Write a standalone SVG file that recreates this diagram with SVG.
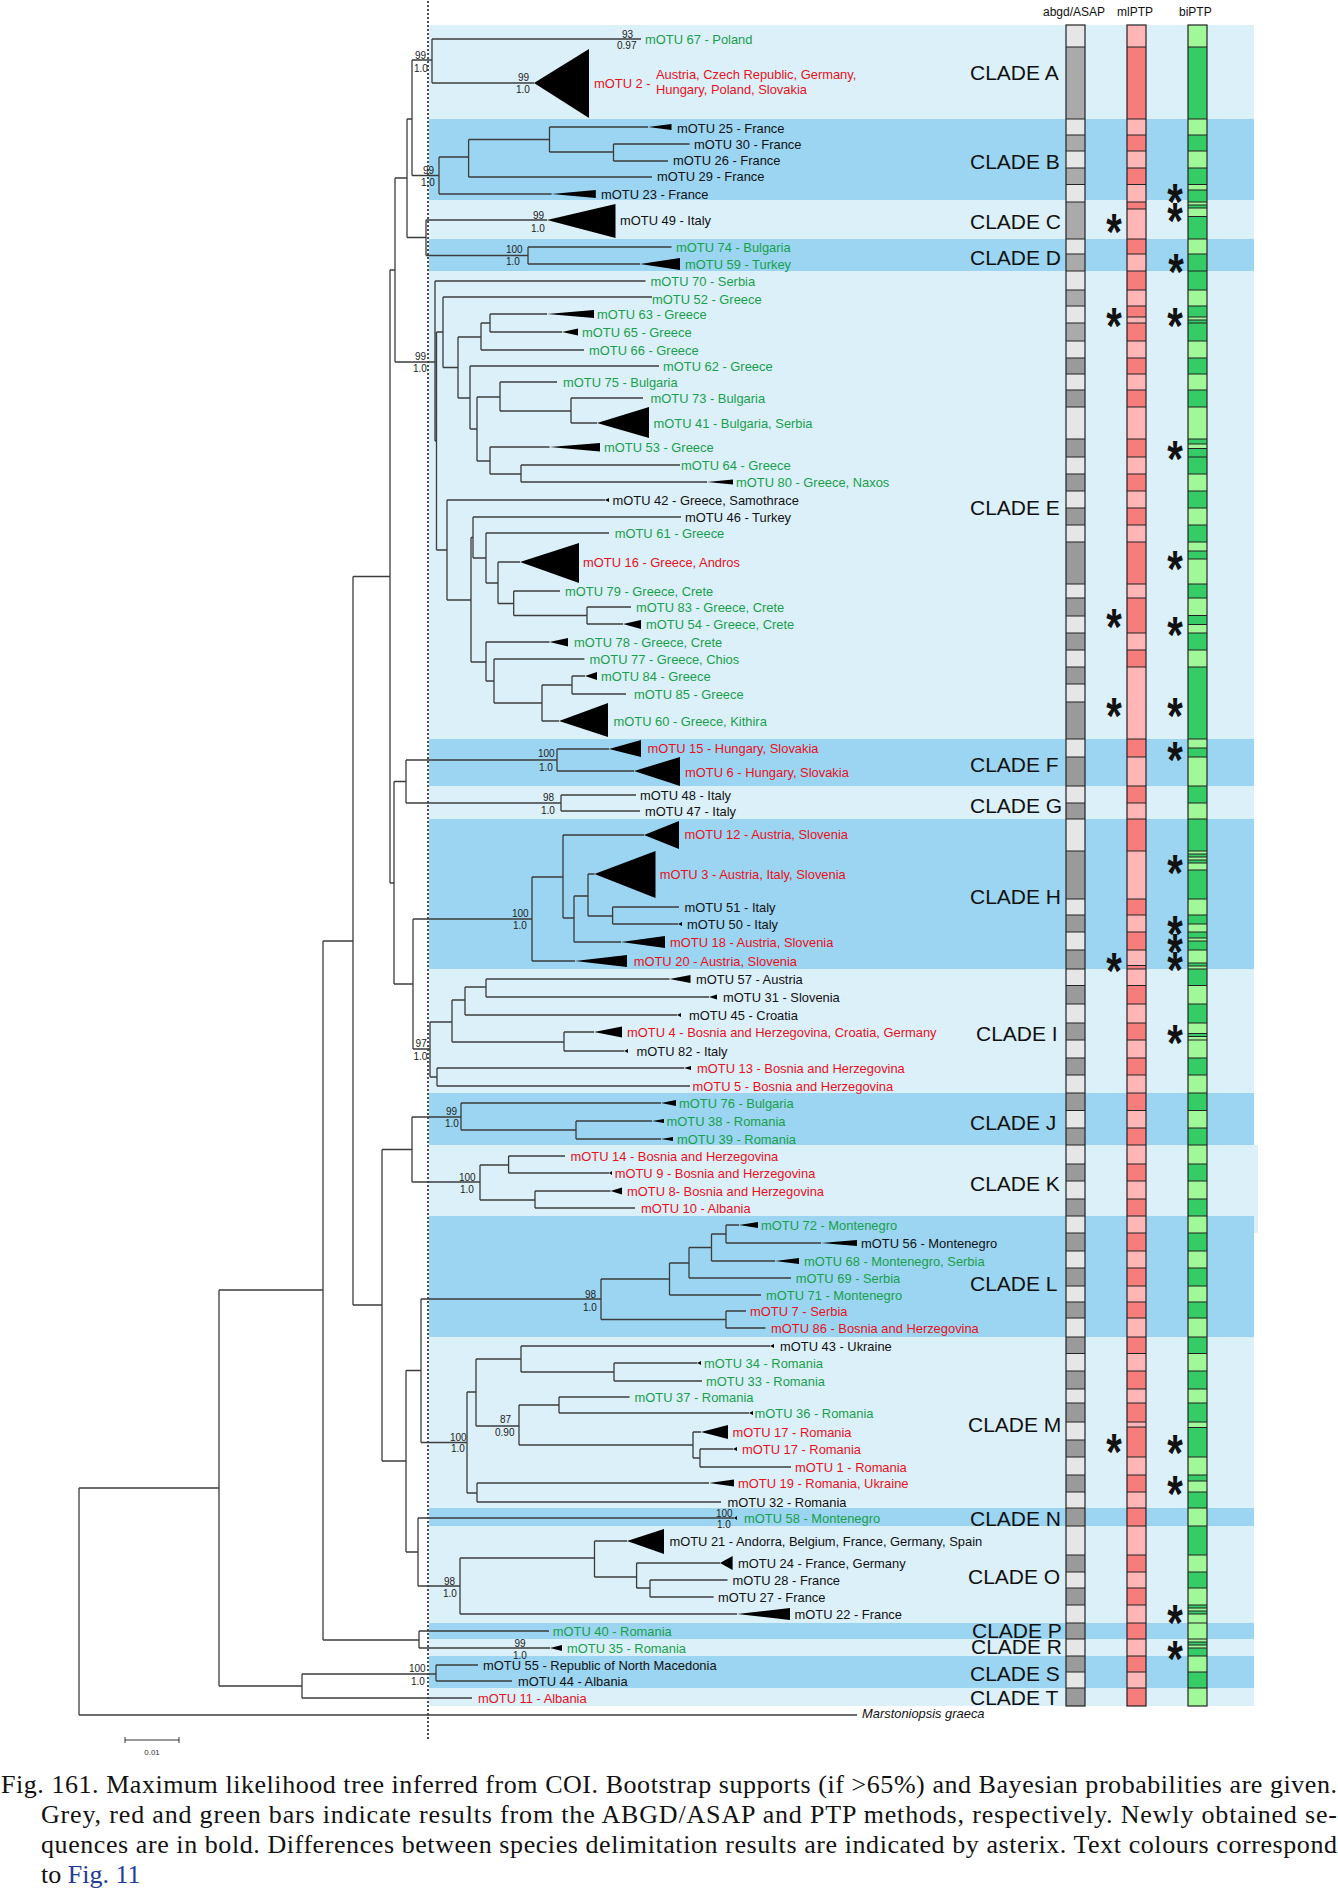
<svg xmlns="http://www.w3.org/2000/svg" width="1338" height="1894" viewBox="0 0 1338 1894">
<style>
.lt{fill:#dcf0f9}.dk{fill:#9bd5f1}
.br{fill:none;stroke:#3c3c3c;stroke-width:1.3}
.tri{fill:#000}
.t{font-family:"Liberation Sans",Arial,sans-serif;font-size:12.9px}
.g{fill:#17a04a}.r{fill:#e8101c}.k{fill:#111}
.sup{font-family:"Liberation Sans",Arial,sans-serif;font-size:10px;fill:#222}
.cl{font-family:"Liberation Sans",Arial,sans-serif;font-size:21px;fill:#111}
.hd{font-family:"Liberation Sans",Arial,sans-serif;font-size:12px;fill:#111}
.ast{font-family:"Liberation Sans",Arial,sans-serif;font-size:40px;font-weight:bold;fill:#111;text-anchor:middle}
.cap{font-family:"Liberation Serif","Times New Roman",serif;font-size:26px;fill:#111}
.bl{fill:none;stroke:#222;stroke-width:1.2}
.ga{fill:#aaaaaa}.gb{fill:#9a9a9a}
.pl{fill:#ffb6b6}.ps{fill:#f77c7c}
.vl{fill:#a0f898}.vd{fill:#35cc66}
</style>
<rect x="0" y="0" width="1338" height="1894" fill="#fff"/>
<g id="bands">
<rect class="lt" x="429" y="1145" width="829" height="88"/>
<rect class="lt" x="429" y="25" width="825" height="94"/>
<rect class="dk" x="429" y="119" width="825" height="81"/>
<rect class="lt" x="429" y="200" width="825" height="39"/>
<rect class="dk" x="429" y="239" width="825" height="32"/>
<rect class="lt" x="429" y="271" width="825" height="468"/>
<rect class="dk" x="429" y="739" width="825" height="47"/>
<rect class="lt" x="429" y="786" width="825" height="33"/>
<rect class="dk" x="429" y="819" width="825" height="150"/>
<rect class="lt" x="429" y="969" width="825" height="124"/>
<rect class="dk" x="429" y="1093" width="825" height="52"/>
<rect class="dk" x="429" y="1216" width="825" height="121"/>
<rect class="lt" x="429" y="1337" width="825" height="171"/>
<rect class="dk" x="429" y="1508" width="825" height="18"/>
<rect class="lt" x="429" y="1526" width="825" height="97"/>
<rect class="dk" x="429" y="1623" width="825" height="16"/>
<rect class="lt" x="429" y="1639" width="825" height="17"/>
<rect class="dk" x="429" y="1656" width="825" height="32"/>
<rect class="lt" x="429" y="1688" width="825" height="18"/>
</g>
<line x1="428" y1="1" x2="428" y2="1740" stroke="#222" stroke-width="1.6" stroke-dasharray="2 2"/>
<g id="clade-labels">
<text class="cl" x="970" y="80">CLADE A</text>
<text class="cl" x="970" y="169">CLADE B</text>
<text class="cl" x="970" y="229">CLADE C</text>
<text class="cl" x="970" y="265">CLADE D</text>
<text class="cl" x="970" y="515">CLADE E</text>
<text class="cl" x="970" y="772">CLADE F</text>
<text class="cl" x="970" y="813">CLADE G</text>
<text class="cl" x="970" y="904">CLADE H</text>
<text class="cl" x="976" y="1041">CLADE I</text>
<text class="cl" x="970" y="1130">CLADE J</text>
<text class="cl" x="970" y="1191">CLADE K</text>
<text class="cl" x="970" y="1291">CLADE L</text>
<text class="cl" x="968" y="1432">CLADE M</text>
<text class="cl" x="970" y="1526">CLADE N</text>
<text class="cl" x="968" y="1584">CLADE O</text>
<text class="cl" x="972" y="1638">CLADE P</text>
<text class="cl" x="971" y="1654">CLADE R</text>
<text class="cl" x="970" y="1681">CLADE S</text>
<text class="cl" x="970" y="1705">CLADE T</text>
</g>
<g id="headers">
<text class="hd" x="1043" y="15.5">abgd/ASAP</text>
<text class="hd" x="1117" y="15.5">mlPTP</text>
<text class="hd" x="1179" y="15.5">biPTP</text>
</g>
<g id="bar-abgd">
<rect x="1066" y="25" width="19" height="1681" fill="#e6e6e6"/>
<g class="ga"><rect x="1066" y="47" width="19" height="72"/><rect x="1066" y="135" width="19" height="16"/><rect x="1066" y="168" width="19" height="16.5"/><rect x="1066" y="202" width="19" height="37"/><rect x="1066" y="254" width="19" height="17"/><rect x="1066" y="290" width="19" height="16"/><rect x="1066" y="323" width="19" height="18"/></g>
<g class="gb"><rect x="1066" y="358" width="19" height="16"/><rect x="1066" y="390" width="19" height="17"/><rect x="1066" y="439" width="19" height="18"/><rect x="1066" y="474" width="19" height="17"/><rect x="1066" y="508" width="19" height="17"/><rect x="1066" y="542" width="19" height="42"/><rect x="1066" y="598" width="19" height="18"/><rect x="1066" y="633" width="19" height="17"/><rect x="1066" y="667" width="19" height="17"/><rect x="1066" y="702" width="19" height="37"/><rect x="1066" y="757" width="19" height="29"/><rect x="1066" y="803" width="19" height="16"/><rect x="1066" y="851" width="19" height="48"/><rect x="1066" y="915" width="19" height="17"/><rect x="1066" y="950" width="19" height="19"/><rect x="1066" y="985.5" width="19" height="18.5"/><rect x="1066" y="1023" width="19" height="17"/><rect x="1066" y="1058" width="19" height="17"/><rect x="1066" y="1093" width="19" height="17.5"/><rect x="1066" y="1128" width="19" height="17"/><rect x="1066" y="1164" width="19" height="17"/><rect x="1066" y="1199" width="19" height="17"/><rect x="1066" y="1233" width="19" height="18"/><rect x="1066" y="1268" width="19" height="18"/><rect x="1066" y="1302" width="19" height="16"/><rect x="1066" y="1337" width="19" height="16.5"/><rect x="1066" y="1371" width="19" height="18"/><rect x="1066" y="1403" width="19" height="19"/><rect x="1066" y="1440" width="19" height="17"/><rect x="1066" y="1475" width="19" height="17"/><rect x="1066" y="1508" width="19" height="18"/><rect x="1066" y="1555" width="19" height="17"/><rect x="1066" y="1588" width="19" height="17"/><rect x="1066" y="1623" width="19" height="16"/><rect x="1066" y="1656" width="19" height="16"/><rect x="1066" y="1688" width="19" height="18"/></g>
<path class="bl" d="M1066,47H1085M1066,119H1085M1066,135H1085M1066,151H1085M1066,168H1085M1066,184.5H1085M1066,202H1085M1066,239H1085M1066,254H1085M1066,271H1085M1066,290H1085M1066,306H1085M1066,323H1085M1066,341H1085M1066,358H1085M1066,374H1085M1066,390H1085M1066,407H1085M1066,439H1085M1066,457H1085M1066,474H1085M1066,491H1085M1066,508H1085M1066,525H1085M1066,542H1085M1066,584H1085M1066,598H1085M1066,616H1085M1066,633H1085M1066,650H1085M1066,667H1085M1066,684H1085M1066,702H1085M1066,739H1085M1066,757H1085M1066,786H1085M1066,803H1085M1066,819H1085M1066,851H1085M1066,899H1085M1066,915H1085M1066,932H1085M1066,950H1085M1066,969H1085M1066,985.5H1085M1066,1004H1085M1066,1023H1085M1066,1040H1085M1066,1058H1085M1066,1075H1085M1066,1093H1085M1066,1110.5H1085M1066,1128H1085M1066,1145H1085M1066,1164H1085M1066,1181H1085M1066,1199H1085M1066,1216H1085M1066,1233H1085M1066,1251H1085M1066,1268H1085M1066,1286H1085M1066,1302H1085M1066,1318H1085M1066,1337H1085M1066,1353.5H1085M1066,1371H1085M1066,1389H1085M1066,1403H1085M1066,1422H1085M1066,1440H1085M1066,1457H1085M1066,1475H1085M1066,1492H1085M1066,1508H1085M1066,1526H1085M1066,1555H1085M1066,1572H1085M1066,1588H1085M1066,1605H1085M1066,1623H1085M1066,1639H1085M1066,1656H1085M1066,1672H1085M1066,1688H1085"/>
<rect class="bl" x="1066" y="25" width="19" height="1681"/>
</g>
<g id="bar-mlPTP">
<rect class="pl" x="1127" y="25" width="19" height="1681"/>
<g class="ps"><rect x="1127" y="47" width="19" height="72"/><rect x="1127" y="135" width="19" height="16"/><rect x="1127" y="168" width="19" height="16.5"/><rect x="1127" y="202" width="19" height="7"/><rect x="1127" y="239" width="19" height="15"/><rect x="1127" y="271" width="19" height="19"/><rect x="1127" y="306" width="19" height="11"/><rect x="1127" y="323" width="19" height="18"/><rect x="1127" y="358" width="19" height="16"/><rect x="1127" y="390" width="19" height="17"/><rect x="1127" y="439" width="19" height="18"/><rect x="1127" y="474" width="19" height="17"/><rect x="1127" y="508" width="19" height="17"/><rect x="1127" y="542" width="19" height="42"/><rect x="1127" y="598" width="19" height="35"/><rect x="1127" y="650" width="19" height="17"/><rect x="1127" y="739" width="19" height="18"/><rect x="1127" y="786" width="19" height="17"/><rect x="1127" y="819" width="19" height="32"/><rect x="1127" y="899" width="19" height="16"/><rect x="1127" y="932" width="19" height="18"/><rect x="1127" y="965.5" width="19" height="3.5"/><rect x="1127" y="985.5" width="19" height="18.5"/><rect x="1127" y="1023" width="19" height="17"/><rect x="1127" y="1058" width="19" height="17"/><rect x="1127" y="1093" width="19" height="17.5"/><rect x="1127" y="1128" width="19" height="17"/><rect x="1127" y="1164" width="19" height="17"/><rect x="1127" y="1199" width="19" height="17"/><rect x="1127" y="1233" width="19" height="18"/><rect x="1127" y="1268" width="19" height="18"/><rect x="1127" y="1302" width="19" height="16"/><rect x="1127" y="1337" width="19" height="16.5"/><rect x="1127" y="1371" width="19" height="18"/><rect x="1127" y="1403" width="19" height="19"/><rect x="1127" y="1427" width="19" height="30"/><rect x="1127" y="1475" width="19" height="17"/><rect x="1127" y="1508" width="19" height="18"/><rect x="1127" y="1555" width="19" height="17"/><rect x="1127" y="1588" width="19" height="17"/><rect x="1127" y="1623" width="19" height="16"/><rect x="1127" y="1656" width="19" height="16"/><rect x="1127" y="1688" width="19" height="18"/></g>
<path class="bl" d="M1127,47H1146M1127,119H1146M1127,135H1146M1127,151H1146M1127,168H1146M1127,184.5H1146M1127,202H1146M1127,209H1146M1127,239H1146M1127,254H1146M1127,271H1146M1127,290H1146M1127,306H1146M1127,317H1146M1127,323H1146M1127,341H1146M1127,358H1146M1127,374H1146M1127,390H1146M1127,407H1146M1127,439H1146M1127,457H1146M1127,474H1146M1127,491H1146M1127,508H1146M1127,525H1146M1127,542H1146M1127,584H1146M1127,598H1146M1127,633H1146M1127,650H1146M1127,667H1146M1127,739H1146M1127,757H1146M1127,786H1146M1127,803H1146M1127,819H1146M1127,851H1146M1127,899H1146M1127,915H1146M1127,932H1146M1127,950H1146M1127,965.5H1146M1127,969H1146M1127,985.5H1146M1127,1004H1146M1127,1023H1146M1127,1040H1146M1127,1058H1146M1127,1075H1146M1127,1093H1146M1127,1110.5H1146M1127,1128H1146M1127,1145H1146M1127,1164H1146M1127,1181H1146M1127,1199H1146M1127,1216H1146M1127,1233H1146M1127,1251H1146M1127,1268H1146M1127,1286H1146M1127,1302H1146M1127,1318H1146M1127,1337H1146M1127,1353.5H1146M1127,1371H1146M1127,1389H1146M1127,1403H1146M1127,1422H1146M1127,1427H1146M1127,1457H1146M1127,1475H1146M1127,1492H1146M1127,1508H1146M1127,1526H1146M1127,1555H1146M1127,1572H1146M1127,1588H1146M1127,1605H1146M1127,1623H1146M1127,1639H1146M1127,1656H1146M1127,1672H1146M1127,1688H1146"/>
<rect class="bl" x="1127" y="25" width="19" height="1681"/>
</g>
<g id="bar-biPTP">
<rect class="vl" x="1188" y="25" width="19" height="1681"/>
<g class="vd"><rect x="1188" y="47" width="19" height="72"/><rect x="1188" y="135" width="19" height="16"/><rect x="1188" y="168" width="19" height="16.5"/><rect x="1188" y="190" width="19" height="12"/><rect x="1188" y="205" width="19" height="3"/><rect x="1188" y="216.5" width="19" height="22.5"/><rect x="1188" y="254" width="19" height="36"/><rect x="1188" y="306" width="19" height="11"/><rect x="1188" y="320" width="19" height="21"/><rect x="1188" y="358" width="19" height="16"/><rect x="1188" y="390" width="19" height="17"/><rect x="1188" y="439" width="19" height="5"/><rect x="1188" y="448.5" width="19" height="25.5"/><rect x="1188" y="491" width="19" height="17"/><rect x="1188" y="525" width="19" height="17"/><rect x="1188" y="551" width="19" height="8"/><rect x="1188" y="584" width="19" height="14"/><rect x="1188" y="615.5" width="19" height="9"/><rect x="1188" y="633" width="19" height="17"/><rect x="1188" y="667" width="19" height="72"/><rect x="1188" y="748" width="19" height="9"/><rect x="1188" y="786" width="19" height="17"/><rect x="1188" y="819" width="19" height="32"/><rect x="1188" y="854" width="19" height="3"/><rect x="1188" y="860" width="19" height="3"/><rect x="1188" y="870" width="19" height="29"/><rect x="1188" y="915" width="19" height="9"/><rect x="1188" y="932" width="19" height="6"/><rect x="1188" y="941" width="19" height="9"/><rect x="1188" y="963" width="19" height="3"/><rect x="1188" y="969" width="19" height="16.5"/><rect x="1188" y="1004" width="19" height="19"/><rect x="1188" y="1033.5" width="19" height="3"/><rect x="1188" y="1058" width="19" height="17"/><rect x="1188" y="1093" width="19" height="17.5"/><rect x="1188" y="1128" width="19" height="17"/><rect x="1188" y="1164" width="19" height="17"/><rect x="1188" y="1199" width="19" height="17"/><rect x="1188" y="1233" width="19" height="18"/><rect x="1188" y="1268" width="19" height="18"/><rect x="1188" y="1302" width="19" height="16"/><rect x="1188" y="1337" width="19" height="16.5"/><rect x="1188" y="1371" width="19" height="18"/><rect x="1188" y="1403" width="19" height="19"/><rect x="1188" y="1427.5" width="19" height="29.5"/><rect x="1188" y="1475" width="19" height="6"/><rect x="1188" y="1492" width="19" height="16"/><rect x="1188" y="1526" width="19" height="29"/><rect x="1188" y="1572" width="19" height="16"/><rect x="1188" y="1605" width="19" height="3"/><rect x="1188" y="1611" width="19" height="3"/><rect x="1188" y="1642" width="19" height="3"/><rect x="1188" y="1648" width="19" height="8"/><rect x="1188" y="1672" width="19" height="16"/></g>
<path class="bl" d="M1188,47H1207M1188,119H1207M1188,135H1207M1188,151H1207M1188,168H1207M1188,184.5H1207M1188,190H1207M1188,202H1207M1188,205H1207M1188,208H1207M1188,216.5H1207M1188,239H1207M1188,254H1207M1188,271H1207M1188,290H1207M1188,306H1207M1188,317H1207M1188,320H1207M1188,323H1207M1188,341H1207M1188,358H1207M1188,374H1207M1188,390H1207M1188,407H1207M1188,439H1207M1188,444H1207M1188,448.5H1207M1188,457H1207M1188,474H1207M1188,491H1207M1188,508H1207M1188,525H1207M1188,542H1207M1188,551H1207M1188,559H1207M1188,584H1207M1188,598H1207M1188,615.5H1207M1188,624.5H1207M1188,633H1207M1188,650H1207M1188,667H1207M1188,739H1207M1188,748H1207M1188,757H1207M1188,786H1207M1188,803H1207M1188,819H1207M1188,851H1207M1188,854H1207M1188,857H1207M1188,860H1207M1188,863H1207M1188,870H1207M1188,899H1207M1188,915H1207M1188,924H1207M1188,932H1207M1188,938H1207M1188,941H1207M1188,950H1207M1188,963H1207M1188,966H1207M1188,969H1207M1188,985.5H1207M1188,1004H1207M1188,1023H1207M1188,1033.5H1207M1188,1036.5H1207M1188,1040H1207M1188,1058H1207M1188,1075H1207M1188,1093H1207M1188,1110.5H1207M1188,1128H1207M1188,1145H1207M1188,1164H1207M1188,1181H1207M1188,1199H1207M1188,1216H1207M1188,1233H1207M1188,1251H1207M1188,1268H1207M1188,1286H1207M1188,1302H1207M1188,1318H1207M1188,1337H1207M1188,1353.5H1207M1188,1371H1207M1188,1389H1207M1188,1403H1207M1188,1422H1207M1188,1427.5H1207M1188,1457H1207M1188,1475H1207M1188,1481H1207M1188,1492H1207M1188,1508H1207M1188,1526H1207M1188,1555H1207M1188,1572H1207M1188,1588H1207M1188,1605H1207M1188,1608H1207M1188,1611H1207M1188,1614H1207M1188,1623H1207M1188,1639H1207M1188,1642H1207M1188,1645H1207M1188,1648H1207M1188,1656H1207M1188,1672H1207M1188,1688H1207"/>
<rect class="bl" x="1188" y="25" width="19" height="1681"/>
</g>
<g id="asterisks">
<text class="ast" transform="translate(1114,250) scale(1,1.3)">*</text>
<text class="ast" transform="translate(1114,344) scale(1,1.3)">*</text>
<text class="ast" transform="translate(1114,645) scale(1,1.3)">*</text>
<text class="ast" transform="translate(1114,733.5) scale(1,1.3)">*</text>
<text class="ast" transform="translate(1114,989) scale(1,1.3)">*</text>
<text class="ast" transform="translate(1114,1470) scale(1,1.3)">*</text>
<text class="ast" transform="translate(1175,220) scale(1,1.3)">*</text>
<text class="ast" transform="translate(1175,239) scale(1,1.3)">*</text>
<text class="ast" transform="translate(1176,290) scale(1,1.3)">*</text>
<text class="ast" transform="translate(1175,344) scale(1,1.3)">*</text>
<text class="ast" transform="translate(1175,477) scale(1,1.3)">*</text>
<text class="ast" transform="translate(1175,587) scale(1,1.3)">*</text>
<text class="ast" transform="translate(1175,653) scale(1,1.3)">*</text>
<text class="ast" transform="translate(1175,733.5) scale(1,1.3)">*</text>
<text class="ast" transform="translate(1175,778) scale(1,1.3)">*</text>
<text class="ast" transform="translate(1175,891) scale(1,1.3)">*</text>
<text class="ast" transform="translate(1175,952) scale(1,1.3)">*</text>
<text class="ast" transform="translate(1175,970) scale(1,1.3)">*</text>
<text class="ast" transform="translate(1175,988) scale(1,1.3)">*</text>
<text class="ast" transform="translate(1175,1061) scale(1,1.3)">*</text>
<text class="ast" transform="translate(1175,1471) scale(1,1.3)">*</text>
<text class="ast" transform="translate(1175,1512) scale(1,1.3)">*</text>
<text class="ast" transform="translate(1175,1641) scale(1,1.3)">*</text>
<text class="ast" transform="translate(1175,1677) scale(1,1.3)">*</text>
</g>
<g id="connectors">
<path class="br" d="M79,1488V1715M79,1488H219M79,1715H857M219,1290V1686M219,1290H323M219,1686H302M302,1674V1698M302,1674H436M302,1698H472M436,1665V1681M436,1665H478M436,1681H512M323,941V1640M323,941H353M323,1640H419M419,1631V1648M419,1631H549M419,1648H550M353,576.5V1305M353,576.5H390M353,1305H382M390,270V883M390,270H395M390,883H394M395,178V362M395,178H407M395,362H435M407,119V237.5M407,119H412M407,237.5H426M412,60V175.5M412,60H432M412,175.5H439M432,39V83M432,39H641M432,83H534M439,157V194M439,157H468.6M439,194H551.6M468.6,139.5V177M468.6,139.5H549.5M468.6,177H652M549.5,127V152M549.5,127H648M549.5,152H613.5M613.5,144V161M613.5,144H689.6M613.5,161H668M426,220V255.5M426,220H547M426,255.5H528M528,247V264M528,247H671.5M528,264H640"/>
<path class="br" d="M435,281V441M435,281H645.5M435,441H436.5M436.5,332V550M436.5,332H443M436.5,550H447M443,297V367.5M443,297H652M443,367.5H458M458,337V398M458,337H481M458,398H470M481,323V350M481,323H490M481,350H584M490,314V332M490,314H547M490,332H562M470,366V429M470,366H659M470,429H477M477,397V461M477,397H500M477,461H490M500,382V411M500,382H557M500,411H571M571,398V423M571,398H643M571,423H597M490,447V474M490,447H549.5M490,474H521M521,465V482M521,465H680M521,482H707M447,500V600M447,500H605M447,600H471M471,537.5V662M471,537.5H473M471,662H486M473,517V558M473,517H681M473,558H486M486,533V583M486,533H609M486,583H498M498,562V603.5M498,562H520M498,603.5H513.7M513.7,591V615.5M513.7,591H560M513.7,615.5H587M587,607V624M587,607H631M587,624H623M486,642V681M486,642H549.5M486,681H494M494,659V703M494,659H584.4M494,703H542M542,685V721M542,685H572M542,721H559M572,676V694M572,676H585M572,694H626"/>
<path class="br" d="M394,781.5V984M394,781.5H406M394,984H413M406,760V803M406,760H557M406,803H561M557,749V771M557,749H609M557,771H634M561,795V811M561,795H636M561,811H640M413,919V1049M413,919H532M413,1049H430M532,877V961M532,877H563M532,961H575M563,835V918M563,835H644M563,918H574M574,896V942M574,896H588M574,942H621M588,874V916M588,874H594.5M588,916H612.6M612.6,907V924M612.6,907H679M612.6,924H678M430,1022V1077M430,1022H452M430,1077H437M452,1000V1042M452,1000H465M452,1042H564M465,987V1015M465,987H486M465,1015H677M486,979V997M486,979H669.5M486,997H709M564,1032V1051M564,1032H594M564,1051H624M437,1068V1086M437,1068H684M437,1086H690"/>
<path class="br" d="M382,1149.5V1461M382,1149.5H412M382,1461H406M412,1117V1182M412,1117H461M412,1182H480M461,1103V1130M461,1103H661M461,1130H576M576,1121V1139M576,1121H652M576,1139H661M480,1165V1200M480,1165H508.6M480,1200H535M508.6,1156V1173M508.6,1156H565M508.6,1173H609M535,1191V1208M535,1191H610.5M535,1208H635M406,1370.5V1552M406,1370.5H421M406,1552H418M421,1299V1442.5M421,1299H601M421,1442.5H467M601,1279V1319.5M601,1279H669.5M601,1319.5H726M669.5,1263V1295M669.5,1263H689M669.5,1295H761M689,1247.5V1278M689,1247.5H711.5M689,1278H791M711.5,1234V1261M711.5,1234H726M711.5,1261H775M726,1225V1243M726,1225H739M726,1243H821M726,1311V1328M726,1311H746M726,1328H765.5M467,1392V1493M467,1392H476M467,1493H477M476,1359V1426M476,1359H521M476,1426H519M521,1346V1372M521,1346H770M521,1372H614M614,1363V1381M614,1363H697M614,1381H702M519,1405V1445M519,1405H559M519,1445H693M559,1397V1413M559,1397H629.5M559,1413H749M693,1432V1458M693,1432H701M693,1458H700M700,1449V1467M700,1449H733M700,1467H791M477,1483V1502M477,1483H709M477,1502H721M418,1518V1586M418,1518H734M418,1586H460M460,1558V1614M460,1558H594.5M460,1614H737M594.5,1541V1577M594.5,1541H627M594.5,1577H636.6M636.6,1563V1588M636.6,1563H720M636.6,1588H650M650,1580V1597M650,1580H727.5M650,1597H713.6"/>
</g>
<g id="supports">
<text class="sup" x="415" y="58.5">99</text><text class="sup" x="414" y="71.5">1.0</text>
<text class="sup" x="622" y="37.5">93</text><text class="sup" x="617" y="48.5">0.97</text>
<text class="sup" x="518" y="80.5">99</text><text class="sup" x="516" y="92.5">1.0</text>
<text class="sup" x="423" y="173.5">99</text><text class="sup" x="421" y="185.5">1.0</text>
<text class="sup" x="533" y="218.5">99</text><text class="sup" x="531" y="231.5">1.0</text>
<text class="sup" x="506" y="252.5">100</text><text class="sup" x="506" y="264.5">1.0</text>
<text class="sup" x="415" y="359.5">99</text><text class="sup" x="413" y="371.5">1.0</text>
<text class="sup" x="538" y="756.5">100</text><text class="sup" x="539" y="770.5">1.0</text>
<text class="sup" x="543" y="800.5">98</text><text class="sup" x="541" y="813.5">1.0</text>
<text class="sup" x="512" y="916.5">100</text><text class="sup" x="513" y="928.5">1.0</text>
<text class="sup" x="415.6" y="1046.5">97</text><text class="sup" x="413.5" y="1059.5">1.0</text>
<text class="sup" x="446" y="1114.5">99</text><text class="sup" x="445" y="1126.5">1.0</text>
<text class="sup" x="459" y="1180.5">100</text><text class="sup" x="460" y="1192.5">1.0</text>
<text class="sup" x="585" y="1297.5">98</text><text class="sup" x="583" y="1310.5">1.0</text>
<text class="sup" x="450" y="1440.5">100</text><text class="sup" x="451" y="1451.5">1.0</text>
<text class="sup" x="500" y="1422.5">87</text><text class="sup" x="495" y="1435.5">0.90</text>
<text class="sup" x="716" y="1516.5">100</text><text class="sup" x="717" y="1527.5">1.0</text>
<text class="sup" x="444" y="1584.5">98</text><text class="sup" x="443" y="1596.5">1.0</text>
<text class="sup" x="514.5" y="1646.5">99</text><text class="sup" x="513" y="1658.5">1.0</text>
<text class="sup" x="409" y="1671.5">100</text><text class="sup" x="411" y="1684.5">1.0</text>
</g>
<g id="tips">
<g id="tip-67"><text class="t g" x="645" y="43.5">mOTU 67 - Poland</text></g>
<g id="tip-2"><polygon class="tri" points="534,83 589,49 589,118"/><text class="t r" x="594" y="87.5">mOTU 2 -</text><text class="t r" x="656" y="78.5">Austria, Czech Republic, Germany,</text><text class="t r" x="656" y="93.5">Hungary, Poland, Slovakia</text></g>
<g id="tip-25"><polygon class="tri" points="648,127 671.5,124 671.5,130"/><text class="t k" x="677" y="132.5">mOTU 25 - France</text></g>
<g id="tip-30"><text class="t k" x="694" y="148.5">mOTU 30 - France</text></g>
<g id="tip-26"><text class="t k" x="673" y="164.5">mOTU 26 - France</text></g>
<g id="tip-29"><text class="t k" x="657" y="180.5">mOTU 29 - France</text></g>
<g id="tip-23"><polygon class="tri" points="551.6,194 595.8,190 595.8,198"/><text class="t k" x="601" y="198.5">mOTU 23 - France</text></g>
<g id="tip-49"><polygon class="tri" points="547,220 615.5,204 615.5,238"/><text class="t k" x="620" y="224.5">mOTU 49 - Italy</text></g>
<g id="tip-74"><text class="t g" x="676" y="251.5">mOTU 74 - Bulgaria</text></g>
<g id="tip-59"><polygon class="tri" points="640,264 680,258 680,270"/><text class="t g" x="685" y="268.5">mOTU 59 - Turkey</text></g>
<g id="tip-70"><text class="t g" x="650.5" y="285.5">mOTU 70 - Serbia</text></g>
<g id="tip-52"><text class="t g" x="652" y="303.5">mOTU 52 - Greece</text></g>
<g id="tip-63"><polygon class="tri" points="547,314 594,310 594,318"/><text class="t g" x="597" y="318.5">mOTU 63 - Greece</text></g>
<g id="tip-65"><polygon class="tri" points="562,332 578,328.5 578,335.5"/><text class="t g" x="582" y="336.5">mOTU 65 - Greece</text></g>
<g id="tip-66"><text class="t g" x="589" y="354.5">mOTU 66 - Greece</text></g>
<g id="tip-62"><text class="t g" x="663" y="370.5">mOTU 62 - Greece</text></g>
<g id="tip-75"><text class="t g" x="563" y="386.5">mOTU 75 - Bulgaria</text></g>
<g id="tip-73"><text class="t g" x="650.5" y="402.5">mOTU 73 - Bulgaria</text></g>
<g id="tip-41"><polygon class="tri" points="597,423 649,407 649,438"/><text class="t g" x="653.5" y="427.5">mOTU 41 - Bulgaria, Serbia</text></g>
<g id="tip-53"><polygon class="tri" points="549.5,447 600,443 600,451.5"/><text class="t g" x="604" y="451.5">mOTU 53 - Greece</text></g>
<g id="tip-64"><text class="t g" x="681" y="469.5">mOTU 64 - Greece</text></g>
<g id="tip-80"><polygon class="tri" points="707,482 733,479.5 733,484.5"/><text class="t g" x="736" y="486.5">mOTU 80 - Greece, Naxos</text></g>
<g id="tip-42"><polygon class="tri" points="605,500 609,498 609,502"/><text class="t k" x="612.6" y="504.5">mOTU 42 - Greece, Samothrace</text></g>
<g id="tip-46"><text class="t k" x="685" y="521.5">mOTU 46 - Turkey</text></g>
<g id="tip-61"><text class="t g" x="614.7" y="537.5">mOTU 61 - Greece</text></g>
<g id="tip-16"><polygon class="tri" points="520,562 579,543 579,583"/><text class="t r" x="583" y="566.5">mOTU 16 - Greece, Andros</text></g>
<g id="tip-79"><text class="t g" x="565" y="595.5">mOTU 79 - Greece, Crete</text></g>
<g id="tip-83"><text class="t g" x="636" y="611.5">mOTU 83 - Greece, Crete</text></g>
<g id="tip-54"><polygon class="tri" points="623,624 641,620 641,629"/><text class="t g" x="646" y="628.5">mOTU 54 - Greece, Crete</text></g>
<g id="tip-78"><polygon class="tri" points="549.5,642 568,638 568,646.5"/><text class="t g" x="574" y="646.5">mOTU 78 - Greece, Crete</text></g>
<g id="tip-77"><text class="t g" x="589.5" y="663.5">mOTU 77 - Greece, Chios</text></g>
<g id="tip-84"><polygon class="tri" points="585,676 597,672 597,680"/><text class="t g" x="601" y="680.5">mOTU 84 - Greece</text></g>
<g id="tip-85"><text class="t g" x="634" y="698.5">mOTU 85 - Greece</text></g>
<g id="tip-60"><polygon class="tri" points="559,721 608,703 608,737"/><text class="t g" x="613.5" y="725.5">mOTU 60 - Greece, Kithira</text></g>
<g id="tip-15"><polygon class="tri" points="609,749 641,740 641,757"/><text class="t r" x="647.5" y="752.5">mOTU 15 - Hungary, Slovakia</text></g>
<g id="tip-6"><polygon class="tri" points="634,771 680,757 680,786"/><text class="t r" x="685" y="776.5">mOTU 6 - Hungary, Slovakia</text></g>
<g id="tip-48"><text class="t k" x="640" y="799.5">mOTU 48 - Italy</text></g>
<g id="tip-47"><text class="t k" x="645" y="815.5">mOTU 47 - Italy</text></g>
<g id="tip-12"><polygon class="tri" points="644,835 679,821 679,849"/><text class="t r" x="684.6" y="838.5">mOTU 12 - Austria, Slovenia</text></g>
<g id="tip-3"><polygon class="tri" points="594.5,874 655.5,851 655.5,898"/><text class="t r" x="659.7" y="878.5">mOTU 3 - Austria, Italy, Slovenia</text></g>
<g id="tip-51"><text class="t k" x="684.6" y="911.5">mOTU 51 - Italy</text></g>
<g id="tip-50"><polygon class="tri" points="678,924 682,922 682,926"/><text class="t k" x="687" y="928.5">mOTU 50 - Italy</text></g>
<g id="tip-18"><polygon class="tri" points="621,942 665,936 665,948"/><text class="t r" x="670" y="946.5">mOTU 18 - Austria, Slovenia</text></g>
<g id="tip-20"><polygon class="tri" points="575,961 627,955 627,967"/><text class="t r" x="633.7" y="965.5">mOTU 20 - Austria, Slovenia</text></g>
<g id="tip-57"><polygon class="tri" points="669.5,979 690.5,975 690.5,983"/><text class="t k" x="696" y="983.5">mOTU 57 - Austria</text></g>
<g id="tip-31"><polygon class="tri" points="709,997 717,994.5 717,999.5"/><text class="t k" x="723" y="1001.5">mOTU 31 - Slovenia</text></g>
<g id="tip-45"><polygon class="tri" points="677,1015 681,1013 681,1017"/><text class="t k" x="689" y="1019.5">mOTU 45 - Croatia</text></g>
<g id="tip-4"><polygon class="tri" points="594,1032 622,1026.5 622,1037.5"/><text class="t r" x="627" y="1036.5">mOTU 4 - Bosnia and Herzegovina, Croatia, Germany</text></g>
<g id="tip-82"><polygon class="tri" points="624,1051 628,1049 628,1053"/><text class="t k" x="636.6" y="1055.5">mOTU 82 - Italy</text></g>
<g id="tip-13"><polygon class="tri" points="684,1068 691,1066 691,1070"/><text class="t r" x="697" y="1072.5">mOTU 13 - Bosnia and Herzegovina</text></g>
<g id="tip-5"><text class="t r" x="692.6" y="1090.5">mOTU 5 - Bosnia and Herzegovina</text></g>
<g id="tip-76"><polygon class="tri" points="661,1103 676,1100 676,1106"/><text class="t g" x="679" y="1107.5">mOTU 76 - Bulgaria</text></g>
<g id="tip-38"><polygon class="tri" points="652,1121 664,1119 664,1123"/><text class="t g" x="666.5" y="1125.5">mOTU 38 - Romania</text></g>
<g id="tip-39"><polygon class="tri" points="661,1139 673,1137 673,1141"/><text class="t g" x="677" y="1143.5">mOTU 39 - Romania</text></g>
<g id="tip-14"><text class="t r" x="570.5" y="1160.5">mOTU 14 - Bosnia and Herzegovina</text></g>
<g id="tip-9"><polygon class="tri" points="609,1173 612,1171 612,1175"/><text class="t r" x="614.7" y="1177.5">mOTU 9 - Bosnia and Herzegovina</text></g>
<g id="tip-8"><polygon class="tri" points="610.5,1191 622,1187.5 622,1194.5"/><text class="t r" x="627" y="1195.5">mOTU 8- Bosnia and Herzegovina</text></g>
<g id="tip-10"><text class="t r" x="641" y="1212.5">mOTU 10 - Albania</text></g>
<g id="tip-72"><polygon class="tri" points="739,1225 758,1222 758,1228"/><text class="t g" x="761" y="1229.5">mOTU 72 - Montenegro</text></g>
<g id="tip-56"><polygon class="tri" points="821,1243 857,1240 857,1246"/><text class="t k" x="861" y="1247.5">mOTU 56 - Montenegro</text></g>
<g id="tip-68"><polygon class="tri" points="775,1261 799,1258 799,1264"/><text class="t g" x="804" y="1265.5">mOTU 68 - Montenegro, Serbia</text></g>
<g id="tip-69"><text class="t g" x="795.7" y="1282.5">mOTU 69 - Serbia</text></g>
<g id="tip-71"><text class="t g" x="766" y="1299.5">mOTU 71 - Montenegro</text></g>
<g id="tip-7"><text class="t r" x="750" y="1315.5">mOTU 7 - Serbia</text></g>
<g id="tip-86"><text class="t r" x="771" y="1332.5">mOTU 86 - Bosnia and Herzegovina</text></g>
<g id="tip-43"><polygon class="tri" points="770,1346 774,1344 774,1348"/><text class="t k" x="780" y="1350.5">mOTU 43 - Ukraine</text></g>
<g id="tip-34"><polygon class="tri" points="697,1363 701,1361 701,1365"/><text class="t g" x="704" y="1367.5">mOTU 34 - Romania</text></g>
<g id="tip-33"><text class="t g" x="706" y="1385.5">mOTU 33 - Romania</text></g>
<g id="tip-37"><text class="t g" x="634.5" y="1401.5">mOTU 37 - Romania</text></g>
<g id="tip-36"><polygon class="tri" points="749,1413 753,1411 753,1415"/><text class="t g" x="754.5" y="1417.5">mOTU 36 - Romania</text></g>
<g id="tip-17a"><polygon class="tri" points="701,1432 728,1425 728,1439"/><text class="t r" x="732.6" y="1436.5">mOTU 17 - Romania</text></g>
<g id="tip-17b"><polygon class="tri" points="733,1449 737,1447 737,1451"/><text class="t r" x="742" y="1453.5">mOTU 17 - Romania</text></g>
<g id="tip-1"><text class="t r" x="795" y="1471.5">mOTU 1 - Romania</text></g>
<g id="tip-19"><polygon class="tri" points="709,1483 734,1479.5 734,1486.5"/><text class="t r" x="738" y="1487.5">mOTU 19 - Romania, Ukraine</text></g>
<g id="tip-32"><text class="t k" x="727.5" y="1506.5">mOTU 32 - Romania</text></g>
<g id="tip-58"><polygon class="tri" points="734,1518 737,1516 737,1520"/><text class="t g" x="744" y="1522.5">mOTU 58 - Montenegro</text></g>
<g id="tip-21"><polygon class="tri" points="627,1541 664,1529 664,1554"/><text class="t k" x="669.4" y="1545.5">mOTU 21 - Andorra, Belgium, France, Germany, Spain</text></g>
<g id="tip-24"><polygon class="tri" points="720,1563 732.6,1556 732.6,1570"/><text class="t k" x="738" y="1567.5">mOTU 24 - France, Germany</text></g>
<g id="tip-28"><text class="t k" x="732.6" y="1584.5">mOTU 28 - France</text></g>
<g id="tip-27"><text class="t k" x="718" y="1601.5">mOTU 27 - France</text></g>
<g id="tip-22"><polygon class="tri" points="737,1614 790,1608 790,1620"/><text class="t k" x="794.5" y="1618.5">mOTU 22 - France</text></g>
<g id="tip-40"><text class="t g" x="552.8" y="1635.5">mOTU 40 - Romania</text></g>
<g id="tip-35"><polygon class="tri" points="550,1648 562,1645 562,1651"/><text class="t g" x="567" y="1652.5">mOTU 35 - Romania</text></g>
<g id="tip-55"><text class="t k" x="483" y="1669.5">mOTU 55 - Republic of North Macedonia</text></g>
<g id="tip-44"><text class="t k" x="518" y="1685.5">mOTU 44 - Albania</text></g>
<g id="tip-11"><text class="t r" x="478" y="1702.5">mOTU 11 - Albania</text></g>
<g id="tip-outgroup"><text class="t k" x="862" y="1717.5" font-style="italic">Marstoniopsis graeca</text></g>
</g>
<g id="scale-bar">
<path d="M125,1740H179M125,1737V1743M179,1737V1743" fill="none" stroke="#333" stroke-width="1"/>
<text x="152" y="1755" text-anchor="middle" font-family="Liberation Sans, Arial, sans-serif" font-size="8" fill="#333">0.01</text>
</g>
<g id="caption">
<text class="cap" x="1" y="1793" textLength="1336">Fig. 161. Maximum likelihood tree inferred from COI. Bootstrap supports (if &gt;65%) and Bayesian probabilities are given.</text>
<text class="cap" x="41" y="1823" textLength="1296">Grey, red and green bars indicate results from the ABGD/ASAP and PTP methods, respectively. Newly obtained se-</text>
<text class="cap" x="41" y="1853" textLength="1296">quences are in bold. Differences between species delimitation results are indicated by asterix. Text colours correspond</text>
<text class="cap" x="41" y="1883">to <tspan fill="#1f3c9c">Fig. 11</tspan></text>
</g>
</svg>
